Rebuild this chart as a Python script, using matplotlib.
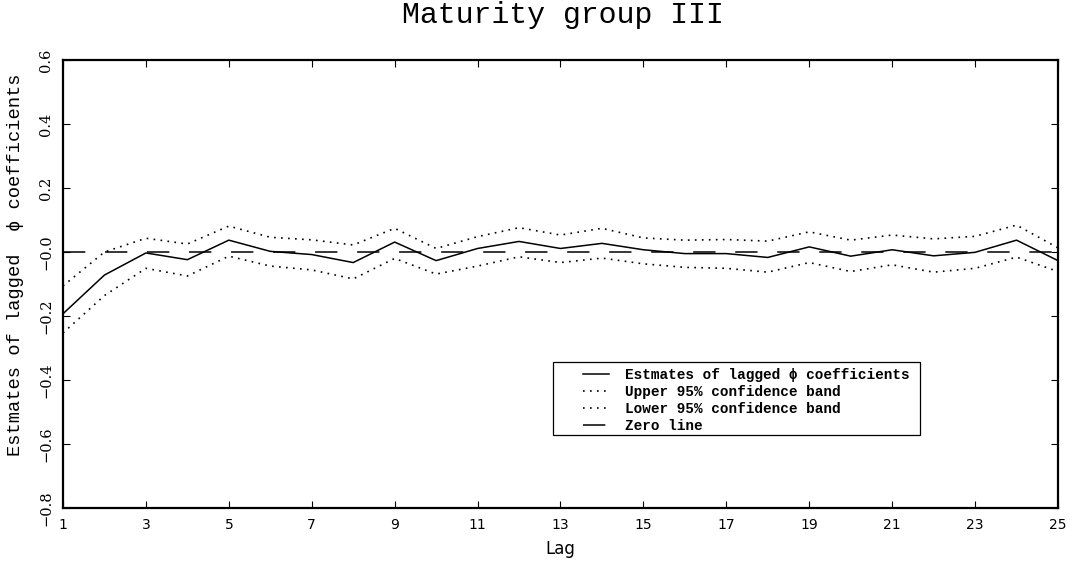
import numpy as np
import matplotlib
matplotlib.use('Agg')
import matplotlib.pyplot as plt
from matplotlib.patches import Rectangle

# data
lags = list(range(1, 26))
estimates = [-0.193, -0.072, -0.003, -0.024, 0.037, 0.002, -0.008, -0.033, 0.031, -0.027,
             0.011, 0.033, 0.011, 0.027, 0.007, -0.005, -0.005, -0.017, 0.016, -0.013,
             0.007, -0.012, -0.001, 0.037, -0.027]
upper = [-0.106, 0.000, 0.043, 0.025, 0.081, 0.046, 0.038, 0.022, 0.074, 0.011,
         0.048, 0.076, 0.053, 0.074, 0.044, 0.037, 0.039, 0.034, 0.063, 0.037,
         0.053, 0.041, 0.049, 0.084, 0.013]
lower = [-0.253, -0.136, -0.051, -0.075, -0.013, -0.044, -0.056, -0.084, -0.020, -0.069,
         -0.044, -0.015, -0.033, -0.019, -0.037, -0.048, -0.051, -0.063, -0.033, -0.061,
         -0.040, -0.063, -0.051, -0.016, -0.061]
zero = [0.0] * len(lags)

xticks = list(range(1, 26, 2))
yticks = [-0.8, -0.6, -0.4, -0.2, 0.0, 0.2, 0.4, 0.6]
ytick_labels = ['\u22120.8', '\u22120.6', '\u22120.4', '\u22120.2', '\u22120.0', '0.2', '0.4', '0.6']

labels = ['Estmates of lagged \u03d5 coefficients',
          'Upper 95% confidence band',
          'Lower 95% confidence band',
          'Zero line']

fig = plt.figure(figsize=(10.73, 5.65), dpi=100)
ax = fig.add_axes([63 / 1073, 57 / 565, 995 / 1073, 448 / 565])

l1, = ax.plot(lags, estimates, color='black', lw=1.1)
l2, = ax.plot(lags, upper, color='black', lw=1.2, dashes=(1, 3.2))
l3, = ax.plot(lags, lower, color='black', lw=1.2, dashes=(1, 3.2))
l4, = ax.plot(lags, zero, color='black', lw=1.1, dashes=(14.6, 12.9))

ax.set_xlim(1, 25)
ax.set_ylim(-0.8, 0.6)
ax.set_xticks(xticks)
ax.set_yticks(yticks)
ax.set_yticklabels(ytick_labels, family='DejaVu Serif', fontsize=10.5, rotation=90, va='center')
for t in ax.get_xticklabels():
    t.set_family('DejaVu Sans')
    t.set_fontsize(10)

ax.tick_params(direction='in', length=5, width=0.8, top=True, right=True)
ax.tick_params(axis='x', pad=7)
ax.tick_params(axis='y', pad=7)
for s in ax.spines.values():
    s.set_linewidth(1.6)

fig.text(560 / 1073, 1 - 549 / 565, 'Lag', ha='center', va='center',
         family='DejaVu Sans', fontsize=12)
fig.text(16 / 1073, 1 - 265 / 565, 'Estmates of lagged  \u03d5 coefficients',
         rotation=90, ha='center', va='center', family=['Liberation Mono', 'DejaVu Sans'],
         fontsize=13.5)
fig.text(563 / 1073, 1 - 23 / 565, 'Maturity group III', ha='center', va='baseline',
         family='Liberation Mono', fontsize=21.5)

# legend box drawn separately so the inner spacing can match
ax.add_patch(Rectangle((490 / 995, 73 / 448), 367 / 995, 73 / 448, transform=ax.transAxes,
                       fill=False, edgecolor='black', lw=0.9, zorder=5))
ax.legend([l1, l2, l3, l4], labels, loc='upper left',
          bbox_to_anchor=(520 / 995, 140 / 448), frameon=False,
          borderpad=0, borderaxespad=0, handlelength=1.8, handletextpad=1.1,
          labelspacing=0.2, prop={'family': 'Liberation Mono', 'weight': 'bold', 'size': 10.4})

fig.savefig('out.png', dpi=100)
